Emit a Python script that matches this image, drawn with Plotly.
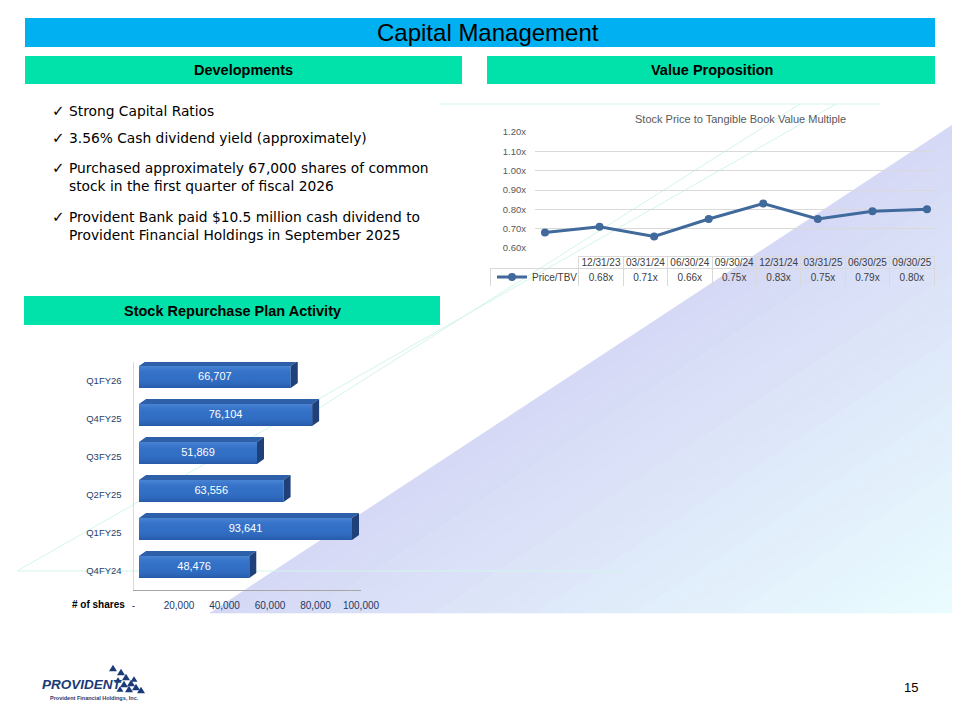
import plotly.graph_objects as go

# ---------------- data ----------------
ratio_dates = ["12/31/23", "03/31/24", "06/30/24", "09/30/24",
               "12/31/24", "03/31/25", "06/30/25", "09/30/25"]
ratio_values = [0.68, 0.71, 0.66, 0.75, 0.83, 0.75, 0.79, 0.80]
ratio_yticks = [0.60, 0.70, 0.80, 0.90, 1.00, 1.10, 1.20]
ratio_series_name = "Price/TBV"
ratio_title = "Stock Price to Tangible Book Value Multiple"

repurchase_quarters = ["Q4FY24", "Q1FY25", "Q2FY25", "Q3FY25", "Q4FY25", "Q1FY26"]
repurchase_shares = [48476, 93641, 63556, 51869, 76104, 66707]
share_ticks = [0, 20000, 40000, 60000, 80000, 100000]
share_tick_labels = ["-", "20,000", "40,000", "60,000", "80,000", "100,000"]

bullets = [
    "Strong Capital Ratios",
    "3.56% Cash dividend yield (approximately)",
    "Purchased approximately 67,000 shares of common<br>stock in the first quarter of fiscal 2026",
    "Provident Bank paid $10.5 million cash dividend to<br>Provident Financial Holdings in September 2025",
]

W, H = 960, 720
OFF = 8  # page body margin
FONT = "Liberation Sans"


def px(x):
    return (x - OFF) / W


def py(y):
    return 1 - (y - OFF) / H


def path(points):
    return "M " + " L ".join(f"{px(x):.5f},{py(y):.5f}" for x, y in points) + " Z"


def mix(c1, c2, t):
    return "#" + "".join(f"{round(a + (b - a) * t):02x}" for a, b in zip(c1, c2))


shapes = []

# ---- background gradient triangle (bands) ----
A, B, C = (210, 613), (960, 120), (960, 613)
c_start, c_end = (0xD5, 0xD8, 0xF5), (0xEA, 0xFD, 0xFF)
N = 30
for k in range(N):
    s0, s1 = k / N, (k + 1) / N
    pa0 = (A[0] + s0 * (C[0] - A[0]), A[1] + s0 * (C[1] - A[1]))
    pb0 = (B[0] + s0 * (C[0] - B[0]), B[1] + s0 * (C[1] - B[1]))
    pa1 = (A[0] + s1 * (C[0] - A[0]), A[1] + s1 * (C[1] - A[1]))
    pb1 = (B[0] + s1 * (C[0] - B[0]), B[1] + s1 * (C[1] - B[1]))
    col = mix(c_start, c_end, (k + 0.5) / N)
    shapes.append(dict(type="path", xref="paper", yref="paper", layer="below",
                       path=path([pa0, pb0, pb1, pa1]),
                       fillcolor=col, line=dict(width=0.6, color=col)))

# ---- faint decorative lines ----
deco = "#D2F5EC"
for (x0, y0, x1, y1) in [(17, 571, 620, 571), (17, 571, 836, 104), (440, 104, 880, 104),
                         (300, 420, 800, 104)]:
    shapes.append(dict(type="line", xref="paper", yref="paper", layer="below",
                       x0=px(x0), y0=py(y0), x1=px(x1), y1=py(y1),
                       line=dict(color=deco, width=1)))

# ---- title and header bars ----
def rect(x0, y0, x1, y1, color):
    shapes.append(dict(type="rect", xref="paper", yref="paper", layer="below",
                       x0=px(x0), y0=py(y1), x1=px(x1), y1=py(y0),
                       fillcolor=color, line=dict(width=0)))


rect(25, 18, 935, 47, "#00B0F0")
rect(25, 56, 462, 84, "#00E2A9")
rect(487, 56, 935, 84, "#00E2A9")
rect(24, 296, 440, 325, "#00E2A9")

# ---- logo triangles ----
navy = "#1B3A78"
tris = [(113, 668, 4), (121, 672, 4), (126, 677, 4), (118, 680, 3.5),
        (124, 684, 4), (131, 683, 4), (136, 687, 4), (129, 689, 4), (141, 690, 4),
        (120, 689, 3.5), (134, 679, 3.5)]
for (cx, cy, r) in tris:
    shapes.append(dict(type="path", xref="paper", yref="paper", layer="above",
                       path=path([(cx - r, cy + r * 0.8), (cx + r, cy + r * 0.8), (cx, cy - r * 0.8)]),
                       fillcolor=navy, line=dict(width=0)))

# ---------------- figure ----------------
fig = go.Figure()

# line chart
fig.add_trace(go.Scatter(
    x=list(range(len(ratio_values))), y=ratio_values, name=ratio_series_name,
    mode="lines+markers", line=dict(color="#40699C", width=3),
    marker=dict(size=8, color="#40699C"), xaxis="x", yaxis="y",
    showlegend=True, hoverinfo="skip"))

# data table under the line chart: grid
ncol = len(ratio_dates)
fig.add_trace(go.Table(
    domain=dict(x=[px(490), px(935)], y=[py(287), py(256)]),
    columnwidth=[89] + [44.5] * ncol,
    header=dict(values=[""] * (ncol + 1), height=12,
                fill=dict(color="rgba(0,0,0,0)"),
                line=dict(color=["rgba(0,0,0,0)"] + ["#D9D9D9"] * ncol, width=1)),
    cells=dict(values=[[""]] * (ncol + 1), height=19,
               fill=dict(color="rgba(0,0,0,0)"),
               line=dict(color="#D9D9D9", width=1)),
))
# data table: text
fig.add_trace(go.Table(
    domain=dict(x=[px(490), px(935)], y=[py(284), py(250)]),
    columnwidth=[89] + [44.5] * ncol,
    header=dict(values=[""] + ratio_dates, height=15, align="center",
                font=dict(family=FONT, size=10, color="#404040"),
                fill=dict(color="rgba(0,0,0,0)"),
                line=dict(color="rgba(0,0,0,0)", width=0)),
    cells=dict(values=[[""]] + [[f"{v:.2f}x"] for v in ratio_values], height=19, align="center",
               font=dict(family=FONT, size=10, color="#404040"),
               fill=dict(color="rgba(0,0,0,0)"),
               line=dict(color="rgba(0,0,0,0)", width=0)),
))

# 3D-style horizontal bars
ypos = list(range(len(repurchase_quarters)))
off, half = 0.105, 0.29
dx, dy = 3077, 0.13
fig.add_trace(go.Bar(
    x=repurchase_shares, y=[p + off for p in ypos], orientation="h", width=2 * half,
    marker=dict(color="#3270C6", line=dict(width=0)), xaxis="x2", yaxis="y2",
    showlegend=False, hoverinfo="skip"))

top_x, top_y, side_x, side_y = [], [], [], []
for p, v in zip(ypos, repurchase_shares):
    t, b = p + off + half, p + off - half
    top_x += [0, v, v + dx, dx, 0, None]
    top_y += [t, t, t + dy, t + dy, t, None]
    side_x += [v, v + dx, v + dx, v, v, None]
    side_y += [b, b + dy, t + dy, t, b, None]
fig.add_trace(go.Scatter(x=top_x, y=top_y, fill="toself", fillcolor="#2E60AA", mode="lines",
                         line=dict(width=0), xaxis="x2", yaxis="y2", showlegend=False, hoverinfo="skip"))
fig.add_trace(go.Scatter(x=side_x, y=side_y, fill="toself", fillcolor="#1F4079", mode="lines",
                         line=dict(width=0), xaxis="x2", yaxis="y2", showlegend=False, hoverinfo="skip"))
for p, v in zip(ypos, repurchase_shares):
    t, b = p + off + half, p + off - half
    fig.add_trace(go.Scatter(
        x=[0, v, v, 0, 0], y=[b, b, t, t, b], fill="toself", mode="lines", line=dict(width=0),
        fillgradient=dict(type="vertical",
                          colorscale=[[0, "rgba(15,40,100,0.30)"], [0.5, "rgba(40,100,190,0.0)"],
                                      [1, "rgba(130,180,245,0.30)"]]),
        xaxis="x2", yaxis="y2", showlegend=False, hoverinfo="skip"))
fig.add_trace(go.Scatter(
    x=[v / 2 for v in repurchase_shares], y=[p + off for p in ypos], mode="text",
    text=[f"{v:,}" for v in repurchase_shares],
    textfont=dict(family=FONT, size=11, color="white"),
    xaxis="x2", yaxis="y2", showlegend=False, hoverinfo="skip"))
# carrier for the tick axis
fig.add_trace(go.Scatter(x=[share_ticks[0], share_ticks[-1]], y=[None, None], mode="markers",
                         xaxis="x3", yaxis="y2", showlegend=False, hoverinfo="skip"))

# ---------------- annotations ----------------
ann = []


def text(x, y, s, size, color="#000000", anchor="center", bold=False, family=FONT, yanchor="middle"):
    ann.append(dict(xref="paper", yref="paper", x=px(x), y=py(y), text=f"<b>{s}</b>" if bold else s,
                    showarrow=False, xanchor=anchor, yanchor=yanchor,
                    font=dict(family=family, size=size, color=color)))


text(488, 33, "Capital Management", 24)
text(243, 70, "Developments", 14.5, bold=True)
text(712, 70, "Value Proposition", 14.5, bold=True)
text(232, 311, "Stock Repurchase Plan Activity", 14.5, bold=True)

bullet_y = [111, 138, 177.5, 226.5]
for s, y in zip(bullets, bullet_y):
    text(50, y - (9.5 if "<br>" in s else 0), "✓", 15, anchor="left", family="DejaVu Sans")
    ann.append(dict(xref="paper", yref="paper", x=px(67), y=py(y), text=s, showarrow=False,
                    xanchor="left", yanchor="middle", align="left",
                    font=dict(family="DejaVu Sans", size=13.8, color="#000000")))

text(740, 119, ratio_title, 11, color="#595959")
text(98, 604, "# of shares", 10, bold=True)
text(40, 684, "<i>PROVIDENT</i>", 13.5, color=navy, anchor="left", bold=True)
text(94, 698, "Provident Financial Holdings, Inc.", 5.5, color=navy, bold=True)
text(911, 687, "15", 13)

fig.update_layout(
    width=W, height=H, margin=dict(l=0, r=0, t=0, b=0, pad=0, autoexpand=False),
    paper_bgcolor="white", plot_bgcolor="rgba(0,0,0,0)",
    font=dict(family=FONT, color="#404040"),
    shapes=shapes, annotations=ann,
    legend=dict(x=px(492), y=py(277), xanchor="left", yanchor="middle",
                bgcolor="rgba(0,0,0,0)", font=dict(family=FONT, size=10, color="#404040"),
                itemwidth=30, tracegroupgap=0),
    xaxis=dict(domain=[px(535), px(935)], range=[-0.183, 7.147], showgrid=False, automargin=False,
               showticklabels=False, zeroline=False, showline=False, anchor="y", fixedrange=True),
    yaxis=dict(domain=[py(248), py(132)], range=[0.6, 1.2], tickvals=ratio_yticks, automargin=False,
               ticktext=[f"{v:.2f}x" for v in ratio_yticks], showgrid=True, gridcolor="#D9D9D9",
               gridwidth=1, zeroline=False, showline=False, anchor="x", ticklabelstandoff=8,
               tickfont=dict(family=FONT, size=9.5, color="#595959")),
    xaxis2=dict(domain=[px(139), px(366.5)], range=[0, 100000], visible=False, anchor="y2",
                automargin=False),
    xaxis3=dict(domain=[px(133.5), px(361)], range=[0, 100000], tickvals=share_ticks,
                ticktext=share_tick_labels, showgrid=False, zeroline=False, showline=True,
                linecolor="#A6A6A6", linewidth=1, anchor="y2", ticks="", ticklabelstandoff=6,
                automargin=False, tickfont=dict(family=FONT, size=10, color="#1F3864")),
    yaxis2=dict(domain=[py(590), py(362)], range=[-0.5, 5.5], tickvals=ypos,
                ticktext=repurchase_quarters, showgrid=False, zeroline=False, showline=True,
                linecolor="#D9D9D9", linewidth=1, anchor="x3", ticks="", ticklabelstandoff=9,
                automargin=False, tickfont=dict(family=FONT, size=9.5, color="#2A4066")),
)

fig.write_html("out.html")
